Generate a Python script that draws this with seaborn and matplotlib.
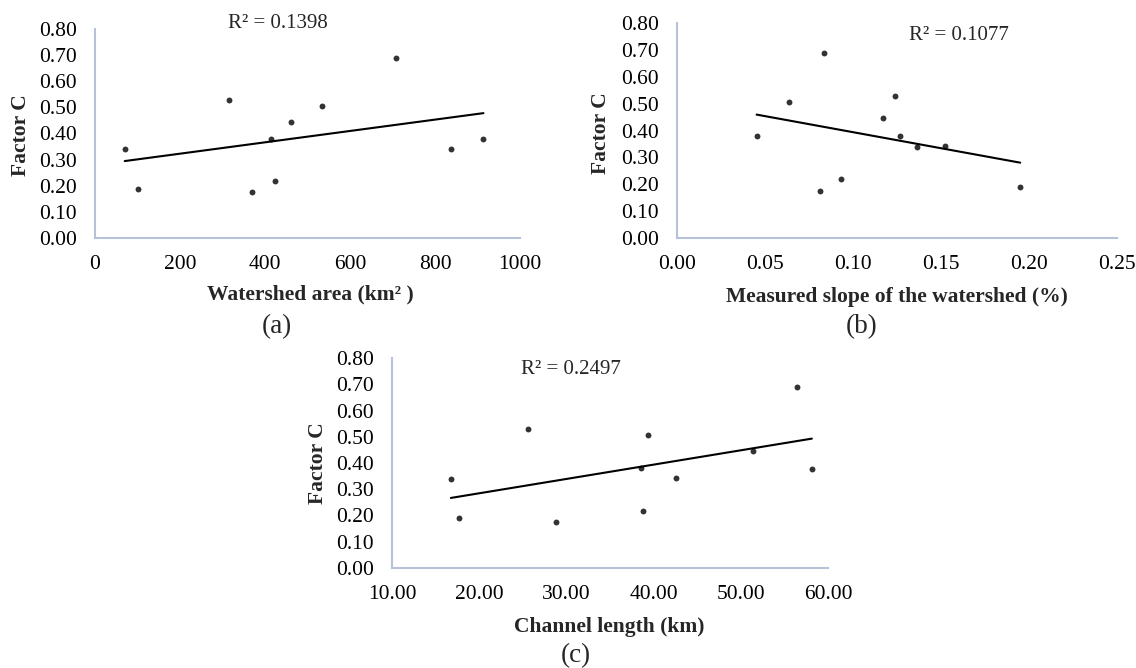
import numpy as np
import pandas as pd
import matplotlib
matplotlib.use("Agg")
import matplotlib.pyplot as plt
import seaborn as sns


####################################################################################
## DATA
####################################################################################
factor_c = [0.339, 0.189, 0.528, 0.176, 0.380, 0.219, 0.445, 0.506, 0.689, 0.342, 0.378]

watershed_area = [70, 102, 315, 369, 413, 424, 462, 533, 709, 837, 914]
slope = [0.1363, 0.195, 0.1237, 0.0813, 0.0452, 0.0931, 0.117, 0.0634, 0.0834, 0.1525, 0.1267]
channel_length = [16.75, 17.74, 25.6, 28.8, 38.56, 38.8, 51.4, 39.34, 56.46, 42.6, 58.15]

r2_labels = ["R² = 0.1398", "R² = 0.1077", "R² = 0.2497"]
x_labels = ["Watershed area (km² )", "Measured slope of the watershed (%)", "Channel length (km)"]
panel_labels = ["(a)", "(b)", "(c)"]

y_ticks = [0.0, 0.1, 0.2, 0.3, 0.4, 0.5, 0.6, 0.7, 0.8]
x_ticks_a = [0, 200, 400, 600, 800, 1000]
x_ticks_b = [0.00, 0.05, 0.10, 0.15, 0.20, 0.25]
x_ticks_c = [10, 20, 30, 40, 50, 60]

df = pd.DataFrame({
    "area": watershed_area,
    "slope": slope,
    "length": channel_length,
    "C": factor_c,
})

####################################################################################
## Viz
####################################################################################
sns.set_style("white")
plt.rcParams["font.family"] = ["Liberation Serif", "DejaVu Serif"]

W, H = 1136, 668
fig = plt.figure(figsize=(W / 100, H / 100), dpi=100)

spine_col = "#B7C2D8"


def px_axes(left, top, right, bottom):
    # pixel box -> figure fraction
    return fig.add_axes([left / W, 1 - bottom / H, (right - left) / W, (bottom - top) / H])


def px_text(x, y, s, **kw):
    fig.text(x / W, 1 - y / H, s, ha="center", va="center", **kw)


panels = [
    ("area", x_ticks_a, "{:.0f}", (95, 29, 520, 238)),
    ("slope", x_ticks_b, "{:.2f}", (677, 23, 1117, 238)),
    ("length", x_ticks_c, "{:.2f}", (392, 358, 828, 568)),
]

for col, xt, fmt, box in panels:
    ax = px_axes(*box)
    sns.regplot(data=df, x=col, y="C", ax=ax, ci=None,
                scatter_kws={"s": 18, "color": "black", "linewidths": 0},
                line_kws={"color": "black", "lw": 1.5})
    ax.set_xlim(xt[0], xt[-1])
    ax.set_ylim(0, 0.8)
    ax.set_xticks(xt)
    ax.set_xticklabels([fmt.format(v) for v in xt])
    ax.set_yticks(y_ticks)
    ax.set_yticklabels(["{:.2f}".format(v) for v in y_ticks])
    ax.tick_params(axis="y", length=0, labelsize=15.5, pad=13, colors="black")
    ax.tick_params(axis="x", length=0, labelsize=15.5, pad=12, colors="black")
    ax.set_xlabel("")
    ax.set_ylabel("")
    for s in ["top", "right"]:
        ax.spines[s].set_visible(False)
    for s in ["left", "bottom"]:
        ax.spines[s].set_color(spine_col)
        ax.spines[s].set_linewidth(1.5)

# R^2 labels
px_text(278, 24, r2_labels[0], fontsize=15)
px_text(959, 35, r2_labels[1], fontsize=15)
px_text(571, 370, r2_labels[2], fontsize=15)

# axis titles
px_text(310, 294, x_labels[0], fontsize=15.5, fontweight="bold")
px_text(897, 297, x_labels[1], fontsize=15.5, fontweight="bold")
px_text(609, 627, x_labels[2], fontsize=15.5, fontweight="bold")

px_text(21, 135, "Factor C", fontsize=15.5, fontweight="bold", rotation=90)
px_text(601, 133, "Factor C", fontsize=15.5, fontweight="bold", rotation=90)
px_text(318, 463, "Factor C", fontsize=15.5, fontweight="bold", rotation=90)

# panel letters
px_text(277, 327, panel_labels[0], fontsize=19.5)
px_text(862, 327, panel_labels[1], fontsize=19.5)
px_text(576, 656, panel_labels[2], fontsize=19.5)

plt.savefig("out.png", dpi=100)
